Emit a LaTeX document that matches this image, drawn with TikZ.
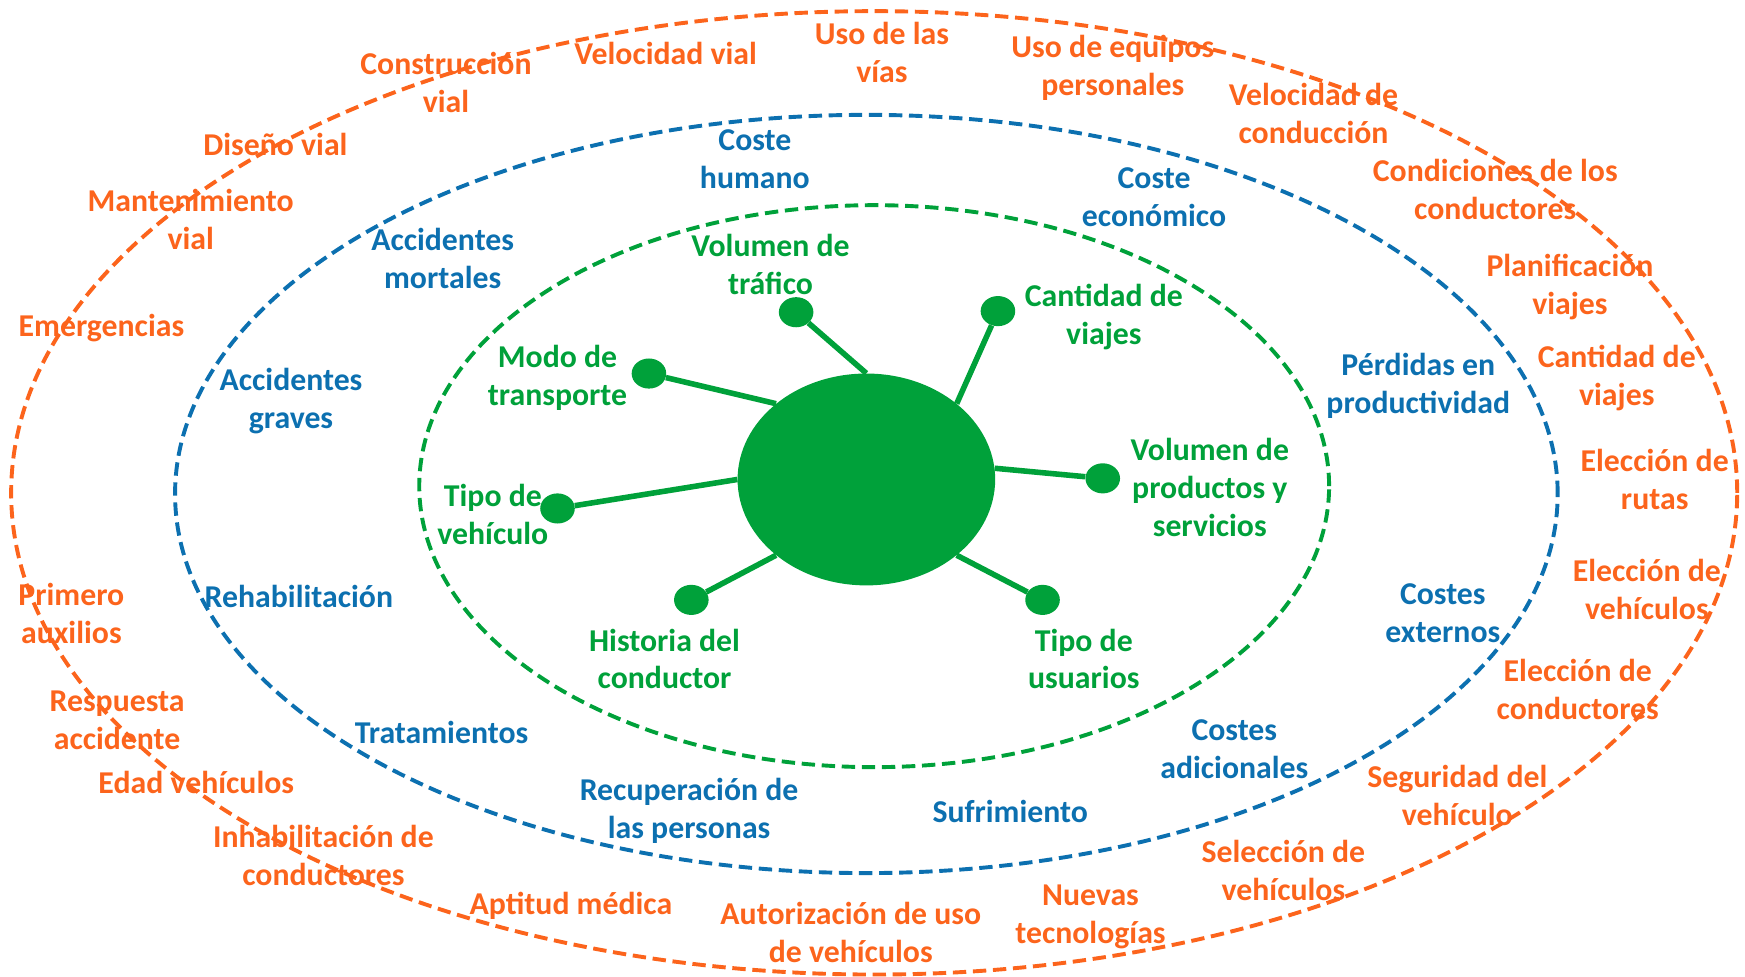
\documentclass[tikz,border=0pt]{standalone}
\usepackage{fontspec}
\setmainfont{Carlito}
\usetikzlibrary{shapes.geometric}
\definecolor{corange}{RGB}{252,100,28}
\definecolor{cblue}{RGB}{12,112,176}
\definecolor{cgreen}{RGB}{0,161,58}
\tikzset{
  lab/.style={align=center, font=\fontsize{28.5}{34}\selectfont\bfseries, inner sep=0pt},
  og/.style={lab, text=corange},
  bl/.style={lab, text=cblue},
  gr/.style={lab, text=cgreen},
  ring/.style={dash pattern=on 12pt off 6pt, line width=3.5pt},
  dot/.style={ellipse, fill=cgreen, draw=none, minimum width=31pt, minimum height=27pt, inner sep=0pt},
  spoke/.style={draw=cgreen, line width=5pt}
}
\begin{document}
\begin{tikzpicture}[x=1pt,y=-1pt]
\useasboundingbox (0,0) rectangle (1565,876);
% rings
\draw[ring, corange] (784,442) ellipse [x radius=774pt, y radius=432pt];
\draw[ring, cblue] (777,443) ellipse [x radius=620pt, y radius=340pt];
\draw[ring, cgreen] (784,436) ellipse [x radius=408pt, y radius=252pt];
% hub and dots
\node[ellipse, fill=cgreen, minimum width=231pt, minimum height=190pt, inner sep=0pt] (hub) at (777,430) {};
\node[dot] (d1) at (714,280) {};
\node[dot] (d2) at (895,279) {};
\node[dot] (d3) at (582,335) {};
\node[dot] (d4) at (500,456) {};
\node[dot] (d5) at (989,429) {};
\node[dot] (d6) at (620,538) {};
\node[dot] (d7) at (935,538) {};
\draw[spoke] (hub.north) -- (d1);
\draw[spoke] (hub.40) -- (d2);
\draw[spoke] (hub.140) -- (d3);
\draw[spoke] (hub.west) -- (d4);
\draw[spoke] (hub.5) -- (d5);
\draw[spoke] (hub.220) -- (d6);
\draw[spoke] (hub.320) -- (d7);
% green labels
\node[gr] (g1) at (691,237) {Volumen de\\tráfico};
\node[gr] (g2) at (990,284) {Cantidad de\\viajes};
\node[gr] (g3) at (500,339) {Modo de\\transporte};
\node[gr] (g4) at (442,461) {Tipo de\\vehículo};
\node[gr] (g5) at (1085,437) {Volumen de\\productos y\\servicios};
\node[gr] (g6) at (596,591) {Historia del\\conductor};
\node[gr] (g7) at (972,591) {Tipo de\\usuarios};
% blue labels
\node[bl] (b1) at (677,143) {Coste\\humano};
\node[bl] (b2) at (1035,177) {Coste\\económico};
\node[bl] (b3) at (397,232) {Accidentes\\mortales};
\node[bl] (b4) at (1272,346) {Pérdidas en\\productividad};
\node[bl] (b5) at (261,360) {Accidentes\\graves};
\node[bl] (b6) at (268,535) {Rehabilitación};
\node[bl] (b7) at (1294,550) {Costes\\externos};
\node[bl] (b8) at (396,657) {Tratamientos};
\node[bl] (b9) at (1107,672) {Costes\\adicionales};
\node[bl] (b10) at (618,727) {Recuperación de\\las personas};
\node[bl] (b11) at (906,728) {Sufrimiento};
% orange labels
\node[og] (o1) at (400,74) {Construcción\\vial};
\node[og] (o2) at (597,48) {Velocidad vial};
\node[og] (o3) at (791,47) {Uso de las\\vías};
\node[og] (o4) at (998,61) {Uso de equipos\\personales};
\node[og] (o5) at (1178,102) {Velocidad de\\conducción};
\node[og] (o6) at (247,130) {Diseño vial};
\node[og] (o7) at (1341,170) {Condiciones de los\\conductores};
\node[og] (o8) at (171,197) {Mantenimiento\\vial};
\node[og] (o9) at (1408,257) {Planificación\\viajes};
\node[og] (o10) at (91,294) {Emergencias};
\node[og] (o11) at (1450,339) {Cantidad de\\viajes};
\node[og] (o12) at (1484,430) {Elección de\\rutas};
\node[og] (o13) at (1477,529) {Elección de\\vehículos};
\node[og] (o14) at (64,550) {Primero\\auxilios};
\node[og] (o15) at (1415,618) {Elección de\\conductores};
\node[og] (o16) at (105,646) {Respuesta\\accidente};
\node[og] (o17) at (176,702) {Edad vehículos};
\node[og] (o18) at (1307,713) {Seguridad del\\vehículo};
\node[og] (o19) at (290,767) {Inhabilitación de\\conductores};
\node[og] (o20) at (1151,781) {Selección de\\vehículos};
\node[og] (o21) at (512,812) {Aptitud médica};
\node[og] (o22) at (978,822) {Nuevas\\tecnologías};
\node[og] (o23) at (763,836) {Autorización de uso\\de vehículos};
\end{tikzpicture}
\end{document}
